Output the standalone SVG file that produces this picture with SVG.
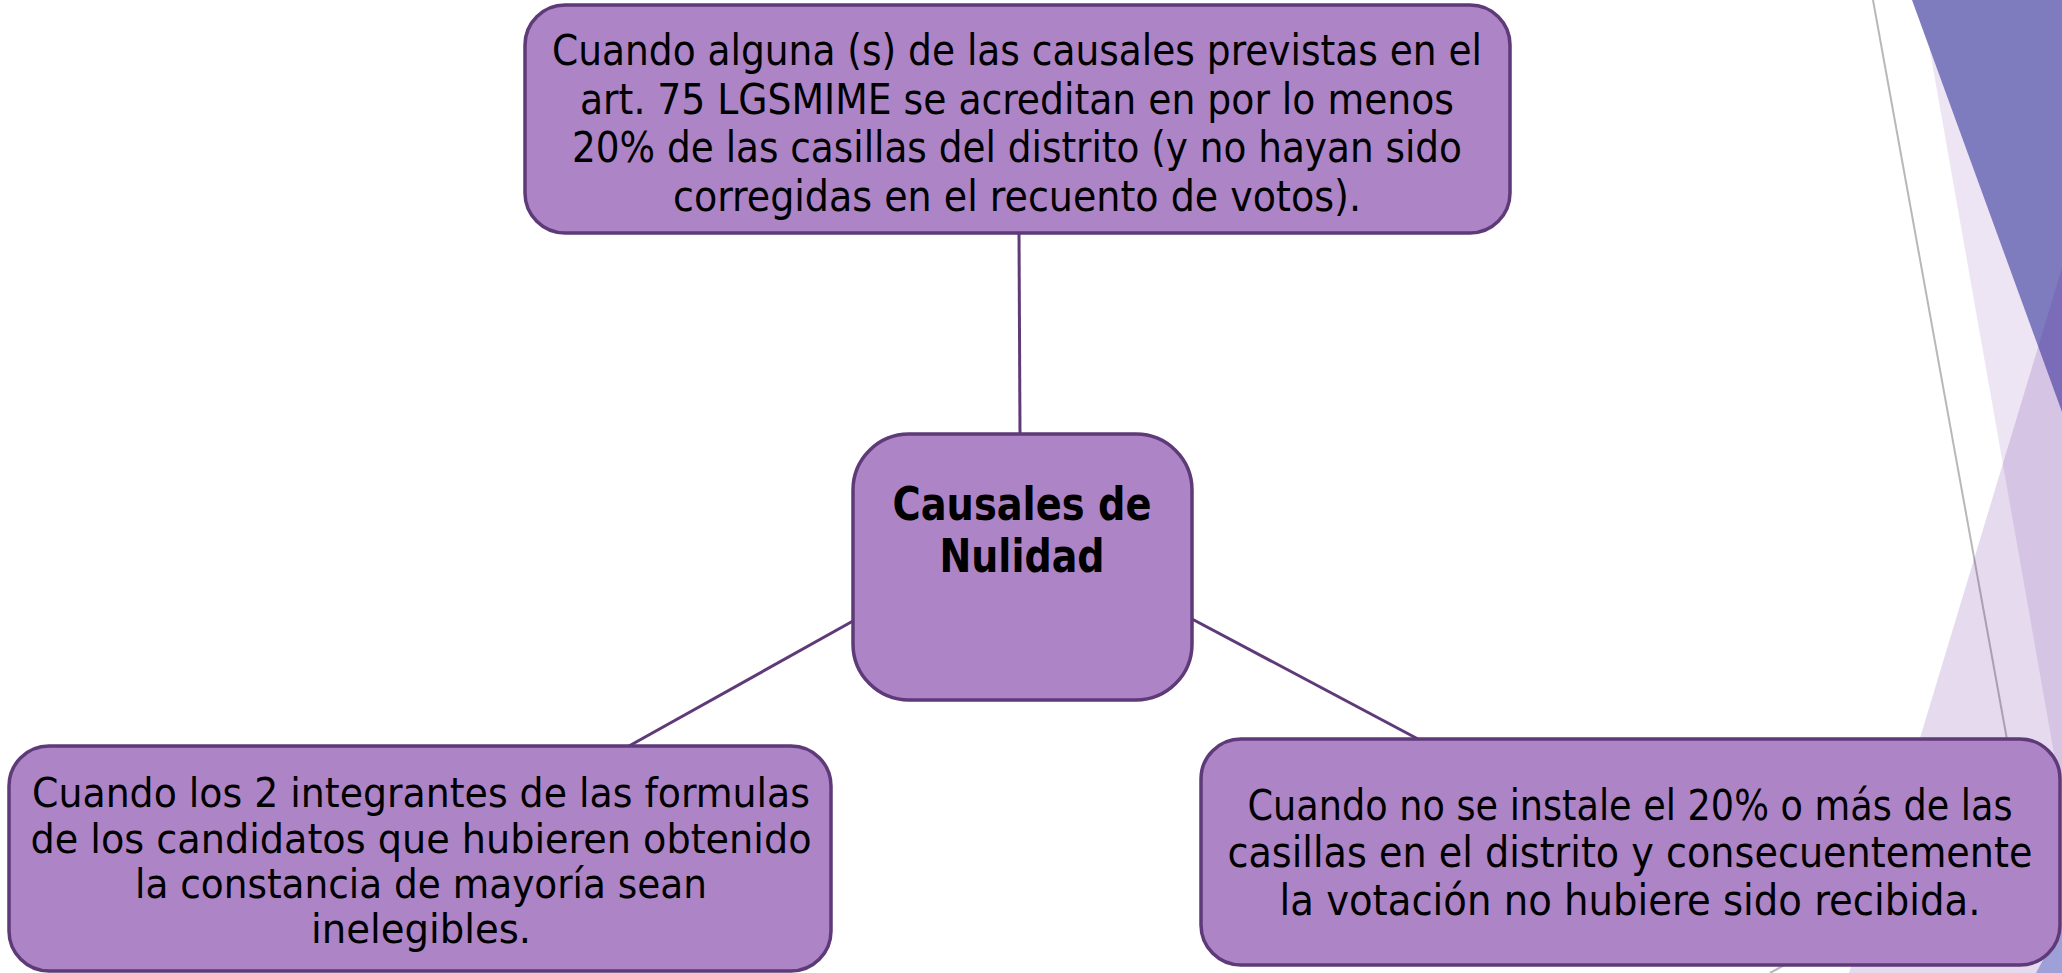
<svg xmlns="http://www.w3.org/2000/svg" width="2062" height="973" viewBox="0 0 2062 973">
  <style>
    .box { fill: #AD84C6; stroke: #5E3A78; stroke-width: 3.5; }
    .conn { stroke: #5E3A78; stroke-width: 3; fill: none; }
    .t { font-family: "Liberation Sans Narrow", "DejaVu Sans Condensed", "DejaVu Sans", sans-serif; font-size: 43px; fill: #000; text-anchor: middle; }
    .s { font-size: 40px; }
    .b { font-family: "DejaVu Sans", "Liberation Sans", sans-serif; font-weight: bold; font-size: 46px; fill: #000; text-anchor: middle; }
  </style>
  <rect width="2062" height="973" fill="#FFFFFF"/>
  <g id="background">
    <polygon points="1921,0 2062,0 2062,799" fill="#EDE5F3"/>
    <polygon points="1912,0 2062,0 2062,412" fill="#7F7BBF"/>
    <line x1="1873" y1="0" x2="2008" y2="745" stroke="#B8B8B8" stroke-width="2"/>
    <polygon points="2062,268 1849,973 2062,973" fill="#66259B" fill-opacity="0.17"/>
    <line x1="1770" y1="973" x2="1830" y2="940" stroke="#B8B8B8" stroke-width="2"/>
    <polygon points="2036,973 2062,973 2062,925" fill="#9EA0D8"/>
  </g>
  <g id="connectors">
    <line class="conn" x1="1019" y1="233" x2="1020" y2="434"/>
    <line class="conn" x1="853" y1="621" x2="629" y2="746"/>
    <line class="conn" x1="1192" y1="619" x2="1418" y2="739"/>
  </g>
  <g id="node-top">
    <rect class="box" x="525" y="5" width="985" height="228" rx="40" ry="40"/>
    <text class="t" x="1017" y="65" textLength="930" lengthAdjust="spacingAndGlyphs">Cuando alguna (s) de las causales previstas en el</text>
    <text class="t" x="1017" y="114" textLength="874" lengthAdjust="spacingAndGlyphs">art. 75 LGSMIME se acreditan en por lo menos</text>
    <text class="t" x="1017" y="162" textLength="890" lengthAdjust="spacingAndGlyphs">20% de las casillas del distrito (y no hayan sido</text>
    <text class="t" x="1017" y="211" textLength="688" lengthAdjust="spacingAndGlyphs">corregidas en el recuento de votos).</text>
  </g>
  <g id="node-center">
    <rect class="box" x="853" y="434" width="339" height="266" rx="56" ry="56"/>
    <text class="b" x="1022" y="520" textLength="259" lengthAdjust="spacingAndGlyphs">Causales de</text>
    <text class="b" x="1022" y="572" textLength="165" lengthAdjust="spacingAndGlyphs">Nulidad</text>
  </g>
  <g id="node-left">
    <rect class="box" x="9" y="746" width="822" height="225" rx="40" ry="40"/>
    <text class="t s" x="421" y="807" textLength="778" lengthAdjust="spacingAndGlyphs">Cuando los 2 integrantes de las formulas</text>
    <text class="t s" x="421" y="853" textLength="781" lengthAdjust="spacingAndGlyphs">de los candidatos que hubieren obtenido</text>
    <text class="t s" x="421" y="898" textLength="572" lengthAdjust="spacingAndGlyphs">la constancia de mayoría sean</text>
    <text class="t s" x="421" y="943" textLength="220" lengthAdjust="spacingAndGlyphs">inelegibles.</text>
  </g>
  <g id="node-right">
    <rect class="box" x="1201" y="739" width="859" height="226" rx="40" ry="40"/>
    <text class="t" x="1630" y="820" textLength="765" lengthAdjust="spacingAndGlyphs">Cuando no se instale el 20% o más de las</text>
    <text class="t" x="1630" y="867" textLength="805" lengthAdjust="spacingAndGlyphs">casillas en el distrito y consecuentemente</text>
    <text class="t" x="1630" y="915" textLength="701" lengthAdjust="spacingAndGlyphs">la votación no hubiere sido recibida.</text>
  </g>
</svg>
